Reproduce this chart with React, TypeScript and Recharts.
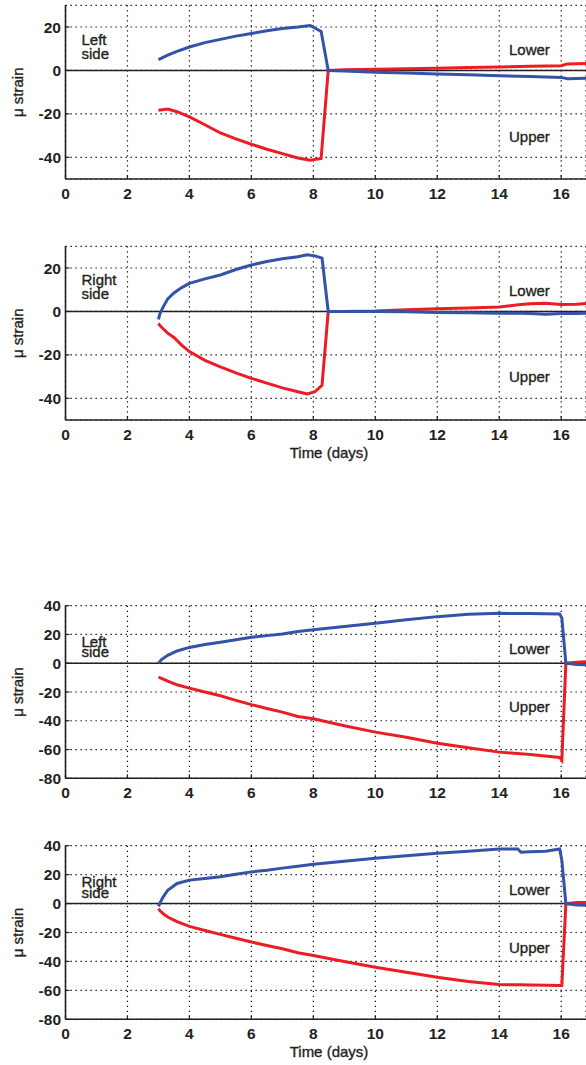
import React from "react";
import {
  LineChart,
  Line,
  XAxis,
  YAxis,
  CartesianGrid,
  ReferenceLine,
} from "recharts";

// ---------- Data ----------
const xTicks = [0, 2, 4, 6, 8, 10, 12, 14, 16];
const yTicksTop = [-40, -20, 0, 20];
const yTicksBottom = [-80, -60, -40, -20, 0, 20, 40];

// Panel 1: left side, test 1
const p1Days = [3, 3.3, 3.6, 4, 4.5, 5, 5.5, 6, 6.5, 7, 7.5, 7.9, 8.25, 8.48, 9, 10, 11, 12, 13, 14, 15, 16, 16.2, 16.8];
const p1Lower = [5, 7, 8.8, 10.8, 12.8, 14.3, 15.8, 17, 18.3, 19.3, 20, 20.7, 18, 0, -0.3, -0.8, -1.2, -1.6, -2, -2.5, -2.8, -3.2, -3.8, -3.6];
const p1Upper = [-18.3, -17.8, -19, -21.4, -25, -28.8, -31.5, -34, -36.3, -38.3, -40.3, -41.3, -40.5, 0, 0.3, 0.6, 0.8, 1, 1.3, 1.6, 1.9, 2.2, 3, 3.2];

// Panel 2: right side, test 1
const p2Days = [3, 3.05, 3.15, 3.3, 3.5, 3.75, 4, 4.5, 5, 5.5, 6, 6.5, 7, 7.5, 7.8, 8.05, 8.28, 8.48, 9, 10, 11, 12, 13, 14, 14.7, 15, 15.5, 16, 16.5, 16.8];
const p2Lower = [-3.7, -1, 2, 5.8, 8.5, 11, 12.9, 15, 16.8, 19.3, 21.4, 23, 24.3, 25.2, 26.1, 25.6, 24.6, 0, 0, 0, -0.2, -0.5, -0.6, -0.8, -0.8, -0.9, -1.3, -0.9, -0.9, -0.8];
const p2Upper = [-5.5, -6.5, -8, -10, -12, -15.5, -18.5, -22.5, -25.5, -28.3, -30.8, -33, -35.2, -37, -38, -37, -34, 0, 0, 0.2, 0.8, 1.2, 1.6, 2, 3.2, 3.5, 3.8, 3.2, 3.3, 3.6];

// Panel 3: left side, test 2
const p3Days = [3, 3.1, 3.3, 3.6, 4, 4.5, 5, 5.5, 6, 6.5, 7, 7.5, 8, 9, 10, 11, 12, 13, 14, 15, 15.95, 16.02, 16.15, 16.5, 16.8];
const p3Lower = [0, 2.5, 5.5, 8.5, 11, 13, 14.6, 16.3, 18, 19.2, 20.4, 22, 23.2, 25.5, 27.8, 30.2, 32.4, 34, 34.7, 34.5, 34.2, 31.5, 0, -0.8, -1];
const p3Upper = [-9.7, -10.5, -12.5, -15, -17.3, -20, -22.6, -25.8, -28.8, -31.5, -34, -37, -38.6, -43.5, -47.9, -51.5, -55.6, -58.8, -61.8, -63.4, -65.5, -67.5, 0, 0.7, 1];

// Panel 4: right side, test 2
const p4Days = [3, 3.05, 3.15, 3.3, 3.6, 4, 4.5, 5, 5.5, 6, 6.5, 7, 7.5, 8, 9, 10, 11, 12, 13, 14, 14.6, 14.7, 15, 15.5, 15.95, 16.02, 16.15, 16.5, 16.8];
const p4Lower = [-2, 0.5, 4.5, 9.2, 13.9, 16.2, 17.3, 18.5, 20.3, 21.9, 23, 24.5, 25.8, 27.1, 29.2, 31.3, 33, 34.7, 36.2, 37.7, 37.7, 35.5, 35.8, 36.2, 37.7, 30, 0, -1, -1.2];
const p4Upper = [-3.5, -5, -7, -9.3, -12.5, -15.8, -18.6, -21.3, -24, -26.6, -29, -31.2, -34, -35.9, -40, -44, -47.5, -51, -53.8, -56, -56.2, -56.2, -56.3, -56.5, -56.7, -56.7, 0, 0.8, 0.8];

// ---------- Styles ----------
const FONT = "'Liberation Sans', Arial, Helvetica, sans-serif";
const BLUE = "#3352a8";
const RED = "#ec1c24";
const INK = "#231f20";
const W = 586;

type PanelProps = {
  top: number;
  height: number;
  marginTop: number;
  xAxisHeight: number;
  yDomain: [number, number];
  yTicks: number[];
  days: number[];
  lower: number[];
  upper: number[];
};

function Panel(p: PanelProps) {
  const data = p.days.map((t, i) => ({ t, lower: p.lower[i], upper: p.upper[i] }));
  const tickStyle = { fill: INK, fontSize: 15.5, fontWeight: 700, fontFamily: FONT };
  return (
    <div style={{ position: "absolute", left: 0, top: p.top, width: W, height: p.height }}>
      <LineChart
        width={W}
        height={p.height}
        data={data}
        margin={{ top: p.marginTop, right: 0, bottom: 0, left: 0 }}
      >
        <CartesianGrid stroke="#000" strokeDasharray="1.3 3.7" strokeWidth={1.2} />
        <XAxis
          type="number"
          dataKey="t"
          domain={[0, 16.8]}
          ticks={xTicks}
          allowDataOverflow
          height={p.xAxisHeight}
          tickSize={-4}
          tickMargin={12.5}
          tick={tickStyle}
          axisLine={{ stroke: INK, strokeWidth: 1.6 }}
          tickLine={{ stroke: INK, strokeWidth: 1.2 }}
        />
        <YAxis
          type="number"
          domain={p.yDomain}
          ticks={p.yTicks}
          allowDataOverflow
          width={65.5}
          tickSize={-4}
          tickMargin={8.5}
          tick={tickStyle}
          axisLine={{ stroke: INK, strokeWidth: 1.6 }}
          tickLine={{ stroke: INK, strokeWidth: 1.2 }}
        />
        <ReferenceLine y={0} stroke={INK} strokeWidth={1.6} />
        <Line
          type="linear"
          dataKey="upper"
          stroke={RED}
          strokeWidth={3}
          dot={false}
          isAnimationActive={false}
        />
        <Line
          type="linear"
          dataKey="lower"
          stroke={BLUE}
          strokeWidth={3}
          dot={false}
          isAnimationActive={false}
        />
      </LineChart>
    </div>
  );
}

type Note = { x: number; y: number; lines: string[]; gap?: number; anchor?: "start" | "middle" };

const notes: Note[] = [
  { x: 81.5, y: 45, lines: ["Left", "side"], gap: 14.3 },
  { x: 509, y: 55, lines: ["Lower"] },
  { x: 509, y: 141.7, lines: ["Upper"] },

  { x: 81.5, y: 285, lines: ["Right", "side"], gap: 14.3 },
  { x: 509, y: 296, lines: ["Lower"] },
  { x: 509, y: 381.7, lines: ["Upper"] },
  { x: 329, y: 457.7, lines: ["Time (days)"], anchor: "middle" },

  { x: 81.5, y: 646.7, lines: ["Left", "side"], gap: 10 },
  { x: 509, y: 654, lines: ["Lower"] },
  { x: 509, y: 711.7, lines: ["Upper"] },

  { x: 81.5, y: 887.3, lines: ["Right", "side"], gap: 10.4 },
  { x: 509, y: 895, lines: ["Lower"] },
  { x: 509, y: 952.7, lines: ["Upper"] },
  { x: 329, y: 1057.3, lines: ["Time (days)"], anchor: "middle" },
];

const yLabelCenters = [92.2, 333.2, 692, 932.5];

export default function App() {
  return (
    <div style={{ position: "absolute", left: 0, top: 0, width: W, height: 1065, background: "#fff", overflow: "hidden" }}>
      <Panel top={0} height={210} marginTop={5.3} xAxisHeight={31} yDomain={[-50, 30]} yTicks={yTicksTop} days={p1Days} lower={p1Lower} upper={p1Upper} />
      <Panel top={230} height={240} marginTop={16.3} xAxisHeight={50} yDomain={[-50, 30]} yTicks={yTicksTop} days={p2Days} lower={p2Lower} upper={p2Upper} />
      <Panel top={590} height={220} marginTop={15.7} xAxisHeight={31.7} yDomain={[-80, 40]} yTicks={yTicksBottom} days={p3Days} lower={p3Lower} upper={p3Upper} />
      <Panel top={830} height={235} marginTop={15.7} xAxisHeight={45.7} yDomain={[-80, 40]} yTicks={yTicksBottom} days={p4Days} lower={p4Lower} upper={p4Upper} />
      <svg
        width={W}
        height={1065}
        style={{ position: "absolute", left: 0, top: 0, pointerEvents: "none" }}
      >
        {notes.map((n, i) => (
          <text
            key={i}
            x={n.x}
            y={n.y}
            textAnchor={n.anchor || "start"}
            fontFamily={FONT}
            fontSize={15}
            fill={INK}
            stroke={INK}
            strokeWidth={0.35}
          >
            {n.lines.map((l, j) => (
              <tspan key={j} x={n.x} dy={j === 0 ? 0 : n.gap}>
                {l}
              </tspan>
            ))}
          </text>
        ))}
        {yLabelCenters.map((cy, i) => (
          <text
            key={"yl" + i}
            transform={`translate(23, ${cy}) rotate(-90)`}
            textAnchor="middle"
            fontFamily={FONT}
            fontSize={15}
            fill={INK}
            stroke={INK}
            strokeWidth={0.35}
          >
            μ strain
          </text>
        ))}
      </svg>
    </div>
  );
}
